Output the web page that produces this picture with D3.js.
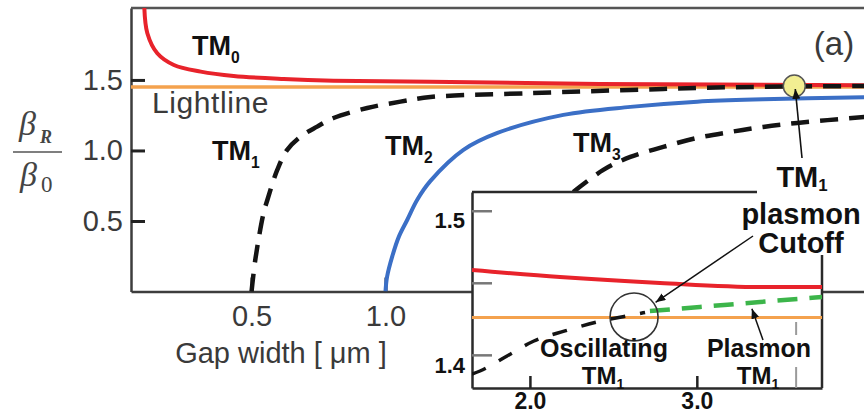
<!DOCTYPE html>
<html><head><meta charset="utf-8">
<script src="https://cdn.jsdelivr.net/npm/d3@7"></script>
<style>
html,body{margin:0;padding:0;background:#fff;}
svg{display:block;font-family:"Liberation Sans",Arial,sans-serif;}
</style>
</head><body>
<svg id="chart" width="864" height="416"></svg>
<script>
// ---------------- data ----------------
// main panel: gap width [um] vs beta_R / beta_0
const mainXTicks = [0.5, 1.0];
const mainYTicks = [0.5, 1.0, 1.5];
const lightlineMain = 1.45;
const tm0 = [[0.0996,2.02],[0.111,1.831],[0.148,1.689],[0.21,1.606],[0.31,1.559],[0.433,1.528],[0.62,1.507],[0.806,1.495],[1.168,1.487],[1.80,1.472],[2.79,1.462]];
const tm1 = [[0.5,0],[0.515,0.238],[0.545,0.557],[0.559,0.649],[0.596,0.862],[0.633,1.004],[0.683,1.098],[0.745,1.169],[0.806,1.230],[0.932,1.301],[1.056,1.346],[1.168,1.379],[1.541,1.406],[1.914,1.429],[2.287,1.448],[2.79,1.457]];
const tm2 = [[1.0,0],[1.006,0.105],[1.025,0.247],[1.05,0.389],[1.081,0.507],[1.118,0.649],[1.168,0.784],[1.291,1.004],[1.418,1.124],[1.664,1.252],[1.914,1.309],[2.164,1.346],[2.41,1.363],[2.79,1.378]];
const tm3 = [[1.701,0.706],[1.813,0.862],[1.914,0.954],[2.037,1.025],[2.164,1.089],[2.287,1.131],[2.41,1.167],[2.537,1.195],[2.79,1.238]];
const plasmonCutoffPoint = [2.526, 1.457];

// inset
const insetXTicks = [2.0, 3.0];
const insetYTicks = [1.4, 1.45, 1.5];
const insetYLabels = {"1.40":"1.4", "1.50":"1.5"};
const lightlineInset = 1.426;
const insetTM0 = [[1.653,1.4589],[2.18,1.454],[2.779,1.4499],[3.379,1.4471],[3.75,1.4471]];
const insetOscillating = [[1.653,1.3867],[1.701,1.3888],[1.863,1.3992],[2.024,1.4096],[2.21,1.4166],[2.402,1.4228],[2.612,1.4277],[2.69,1.4294]];
const insetPlasmon = [[2.719,1.4304],[3.019,1.4332],[3.379,1.4367],[3.75,1.4401]];
const insetCutoff = [2.624, 1.4263];
const insetCutoffGap = 3.595;
const insetPlasmonArrowTip = [3.33, 1.432];

// ---------------- layout ----------------
const svg = d3.select("#chart");
const main = {left:131, right:865, top:8, bottom:291.5};
const x = d3.scaleLinear().domain([0.05, 2.79]).range([main.left, main.right]);
const y = d3.scaleLinear().domain([0, 2.01]).range([main.bottom, main.top]);

const ins = {left:472, right:822, top:192, bottom:388};
const xi = d3.scaleLinear().domain([1.653, 3.75]).range([ins.left, ins.right]);
const yi = d3.scaleLinear().domain([1.377, 1.513]).range([ins.bottom, ins.top]);

const C = {red:"#e8232b", orange:"#f4a24e", blue:"#3b6fc6", black:"#141414", green:"#3cb54a", axis:"#3d3d3d", text:"#3a3a3a"};

const defs = svg.append("defs");
defs.append("clipPath").attr("id","mainClip").append("rect")
  .attr("x",main.left).attr("y",main.top).attr("width",main.right-main.left).attr("height",main.bottom-main.top);
defs.append("clipPath").attr("id","insetClip").append("rect")
  .attr("x",ins.left).attr("y",ins.top).attr("width",ins.right-ins.left).attr("height",ins.bottom-ins.top);
defs.append("marker").attr("id","arrow").attr("viewBox","0 0 10 8").attr("refX",10).attr("refY",4)
  .attr("markerWidth",10).attr("markerHeight",8).attr("markerUnits","userSpaceOnUse").attr("orient","auto")
  .append("path").attr("d","M0,0 L10,4 L0,8 Z").attr("fill","#111");

// ---------------- main axes ----------------
const fmt = d3.format(".1f");
const gL = svg.append("g").attr("transform",`translate(${main.left},0)`)
  .call(d3.axisLeft(y).tickValues(mainYTicks).tickSizeInner(-14).tickSizeOuter(0).tickPadding(8).tickFormat(fmt));
const gB = svg.append("g").attr("transform",`translate(0,${main.bottom})`)
  .call(d3.axisBottom(x).tickValues(mainXTicks).tickSizeInner(-14).tickSizeOuter(0).tickPadding(14).tickFormat(fmt));
[gL,gB].forEach(g=>{
  g.attr("font-size",null).attr("font-family",null);
  g.select(".domain").attr("stroke",C.axis).attr("stroke-width",2.5);
  g.selectAll(".tick line").attr("stroke","#222").attr("stroke-width",3);
  g.selectAll(".tick text").attr("fill",C.text).attr("font-size",29);
});
svg.append("line").attr("x1",main.left).attr("x2",main.right).attr("y1",main.top).attr("y2",main.top)
  .attr("stroke","#555").attr("stroke-width",2.5);

// ---------------- main curves ----------------
const line = d3.line().x(d=>x(d[0])).y(d=>y(d[1])).curve(d3.curveCatmullRom.alpha(0.5));
const gc = svg.append("g").attr("clip-path","url(#mainClip)").attr("fill","none");
gc.append("path").attr("d",line([[0.05,lightlineMain],[2.79,lightlineMain]])).attr("stroke",C.orange).attr("stroke-width",3.5);
gc.append("path").attr("d",line(tm0)).attr("stroke",C.red).attr("stroke-width",4);
gc.append("path").attr("d",line(tm2)).attr("stroke",C.blue).attr("stroke-width",4);
gc.append("path").attr("d",line(tm1)).attr("stroke",C.black).attr("stroke-width",4.5).attr("stroke-dasharray","18,11");
gc.append("path").attr("d",line(tm3)).attr("stroke",C.black).attr("stroke-width",4.5).attr("stroke-dasharray","18,11");

// labels helper with subscript
function label(g, px, py, main, sub, size, weight, anchor, fill, subDy){
  const t = g.append("text").attr("x",px).attr("y",py).attr("font-size",size).attr("font-weight",weight)
    .attr("text-anchor",anchor||"start").attr("fill",fill||"#111");
  t.append("tspan").text(main);
  if(sub!==null && sub!==undefined) t.append("tspan").attr("dy",size*(subDy||0.3)).attr("font-size",size*0.58).text(sub);
  return t;
}
label(svg,192,55,"TM","0",27,"bold");
svg.append("text").attr("x",152).attr("y",113).attr("font-size",30).attr("letter-spacing",0.6).attr("fill",C.text).text("Lightline");
label(svg,212,160,"TM","1",27,"bold");
label(svg,385,155,"TM","2",27,"bold");
label(svg,573,152,"TM","3",27,"bold");

// y-axis title (fraction)
const yt = svg.append("g").attr("fill","#444").attr("font-family","'Liberation Serif','DejaVu Serif',serif");
yt.append("text").attr("x",19).attr("y",135).attr("font-size",34).attr("font-style","italic").text("β");
yt.append("text").attr("x",40).attr("y",143).attr("font-size",18).attr("font-style","italic").attr("font-weight","bold").text("R");
yt.append("line").attr("x1",13).attr("x2",62).attr("y1",152).attr("y2",152).attr("stroke","#555").attr("stroke-width",1.6);
yt.append("text").attr("x",20).attr("y",186).attr("font-size",34).attr("font-style","italic").text("β");
yt.append("text").attr("x",41).attr("y",192).attr("font-size",23).text("0");

// x-axis title
svg.append("text").attr("x",281).attr("y",363).attr("text-anchor","middle").attr("font-size",29).attr("fill",C.text).text("Gap width [ μm ]");
// panel tag
svg.append("text").attr("x",834).attr("y",55).attr("text-anchor","middle").attr("font-size",33).attr("fill",C.text).text("(a)");

// ---------------- inset ----------------
svg.append("rect").attr("x",ins.left).attr("y",ins.top).attr("width",ins.right-ins.left).attr("height",ins.bottom-ins.top).attr("fill","#fff");
const giL = svg.append("g").attr("transform",`translate(${ins.left},0)`)
  .call(d3.axisLeft(yi).tickValues(insetYTicks).tickSizeInner(-20).tickSizeOuter(0).tickPadding(7)
    .tickFormat(d=>insetYLabels[d3.format(".2f")(d)] || ""));
const giB = svg.append("g").attr("transform",`translate(0,${ins.bottom})`)
  .call(d3.axisBottom(xi).tickValues(insetXTicks).tickSizeInner(-12).tickSizeOuter(0).tickPadding(5).tickFormat(fmt));
[giL,giB].forEach(g=>{
  g.attr("font-size",null).attr("font-family",null);
  g.select(".domain").attr("stroke","#2a2a2a").attr("stroke-width",2.5);
  g.selectAll(".tick text").attr("fill","#111").attr("font-weight","bold");
});
giL.selectAll(".tick line").attr("stroke","#777").attr("stroke-width",2.5);
giL.selectAll(".tick text").attr("font-size",22).attr("dy","0.78em");
giB.selectAll(".tick line").attr("stroke","#222").attr("stroke-width",2.5);
giB.selectAll(".tick text").attr("font-size",23);
// partial top / right frame
svg.append("line").attr("x1",ins.left).attr("x2",757).attr("y1",ins.top).attr("y2",ins.top).attr("stroke","#2a2a2a").attr("stroke-width",2.5);
svg.append("line").attr("x1",ins.right).attr("x2",ins.right).attr("y1",255).attr("y2",ins.bottom).attr("stroke","#2a2a2a").attr("stroke-width",2.5);
// vertical cutoff guide
svg.append("line").attr("x1",xi(insetCutoffGap)).attr("x2",xi(insetCutoffGap)).attr("y1",322).attr("y2",ins.bottom)
  .attr("stroke","#9a9a9a").attr("stroke-width",2).attr("stroke-dasharray","13,32,30");

const li = d3.line().x(d=>xi(d[0])).y(d=>yi(d[1])).curve(d3.curveMonotoneX);
const gic = svg.append("g").attr("clip-path","url(#insetClip)").attr("fill","none");
gic.append("path").attr("d",li([[1.653,lightlineInset],[3.75,lightlineInset]])).attr("stroke",C.orange).attr("stroke-width",3);
gic.append("path").attr("d",li(insetTM0)).attr("stroke",C.red).attr("stroke-width",4);
gic.append("path").attr("d",li(insetOscillating)).attr("stroke",C.black).attr("stroke-width",3.5).attr("stroke-dasharray","15,15");
gic.append("path").attr("d",li(insetPlasmon)).attr("stroke",C.green).attr("stroke-width",4.5).attr("stroke-dasharray","20,12");

// cutoff circle + arrows
const cc = [xi(insetCutoff[0]), yi(insetCutoff[1])], r = 24;
svg.append("circle").attr("cx",cc[0]).attr("cy",cc[1]).attr("r",r).attr("fill","none").attr("stroke","#333").attr("stroke-width",1.6);
const a1s = [753,236];
const dx = a1s[0]-cc[0], dy = a1s[1]-cc[1], dl = Math.hypot(dx,dy);
svg.append("line").attr("x1",a1s[0]).attr("y1",a1s[1]).attr("x2",cc[0]+dx/dl*(r+2)).attr("y2",cc[1]+dy/dl*(r+2))
  .attr("stroke","#111").attr("stroke-width",1.5).attr("marker-end","url(#arrow)");
svg.append("line").attr("x1",763).attr("y1",340).attr("x2",xi(insetPlasmonArrowTip[0])).attr("y2",yi(insetPlasmonArrowTip[1]))
  .attr("stroke","#111").attr("stroke-width",1.5).attr("marker-end","url(#arrow)");

// inset labels
svg.append("text").attr("x",604).attr("y",357).attr("text-anchor","middle").attr("font-size",25).attr("font-weight","bold").attr("fill","#111").text("Oscillating");
label(svg,603,384,"TM","1",24,"bold","middle",null,0.2);
svg.append("text").attr("x",759).attr("y",357).attr("text-anchor","middle").attr("font-size",25).attr("font-weight","bold").attr("fill","#111").text("Plasmon");
label(svg,758,384,"TM","1",24,"bold","middle",null,0.2);

// main marker (TM1 plasmon cutoff) and its label
const mp = [x(plasmonCutoffPoint[0]), y(plasmonCutoffPoint[1])];
svg.append("circle").attr("cx",mp[0]).attr("cy",mp[1]).attr("r",11).attr("fill","#f2ee92").attr("stroke","#555").attr("stroke-width",1.5);
svg.append("line").attr("x1",802).attr("y1",158).attr("x2",mp[0]+1).attr("y2",mp[1]+3)
  .attr("stroke","#111").attr("stroke-width",1.6).attr("marker-end","url(#arrow)");
label(svg,802,187,"TM","1",29,"bold","middle",null,0.15);
svg.append("text").attr("x",801).attr("y",224).attr("text-anchor","middle").attr("font-size",29).attr("font-weight","bold").attr("fill","#111").text("plasmon");
svg.append("text").attr("x",801).attr("y",253).attr("text-anchor","middle").attr("font-size",29).attr("font-weight","bold").attr("fill","#111").text("Cutoff");
</script>
</body></html>
